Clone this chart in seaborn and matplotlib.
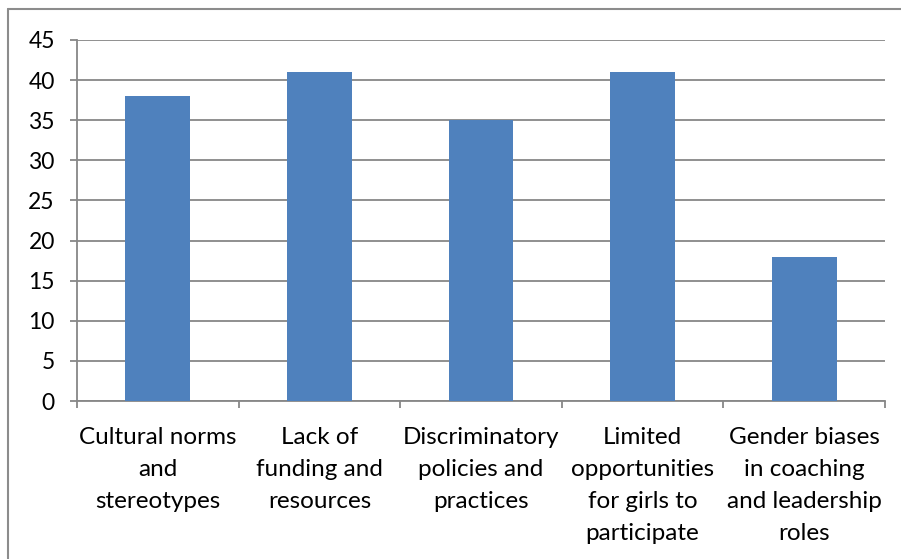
import matplotlib
matplotlib.use("Agg")
import matplotlib.pyplot as plt
from matplotlib.lines import Line2D
import seaborn as sns
import pandas as pd

categories = [
    "Cultural norms\nand\nstereotypes",
    "Lack of\nfunding and\nresources",
    "Discriminatory\npolicies and\npractices",
    "Limited\nopportunities\nfor girls to\nparticipate",
    "Gender biases\nin coaching\nand leadership\nroles",
]
values = [38, 41, 35, 41, 18]
y_ticks = [0, 5, 10, 15, 20, 25, 30, 35, 40, 45]

sns.set_theme(style="white")
plt.rcParams["font.family"] = ["Lato", "DejaVu Sans"]

W, H = 901, 559
fig = plt.figure(figsize=(W / 100, H / 100), dpi=100)
ax = fig.add_axes([77 / W, (H - 401) / H, (885 - 77) / W, (401 - 40) / H])

df = pd.DataFrame({"category": categories, "value": values})
sns.barplot(data=df, x="category", y="value", color="#4F81BD", saturation=1,
            width=0.4, linewidth=0, ax=ax, zorder=3)

grey = "#878787"
ax.set_ylim(0, 45)
ax.set_xlim(-0.5, len(categories) - 0.5)
ax.set_yticks(y_ticks)
ax.set_yticklabels([str(v) for v in y_ticks])
ax.yaxis.grid(True, color=grey, linewidth=1.3, zorder=0)
ax.set_axisbelow(True)
ax.set_xlabel("")
ax.set_ylabel("")

for side in ("top", "right"):
    ax.spines[side].set_visible(False)
for side in ("left", "bottom"):
    ax.spines[side].set_color(grey)
    ax.spines[side].set_linewidth(1.3)

ax.tick_params(axis="y", which="major", length=5, width=1.3, color=grey,
               labelsize=16.5, labelcolor="black", pad=11, left=True)
ax.tick_params(axis="x", which="major", length=0, labelsize=17.5,
               labelcolor="black", pad=19)
ax.set_xticks([i - 0.5 for i in range(len(categories) + 1)], minor=True)
ax.tick_params(axis="x", which="minor", length=5, width=1.3, color=grey,
               bottom=True)
for lbl in ax.get_xticklabels():
    lbl.set_linespacing(1.63)
    lbl.set_ha("center")

# chart frame
fig.add_artist(Line2D([8 / W, 8 / W], [0, 1 - 9 / H], transform=fig.transFigure,
                      color="#8c8c8c", linewidth=1.5))
fig.add_artist(Line2D([8 / W, 1], [1 - 9 / H, 1 - 9 / H], transform=fig.transFigure,
                      color="#8c8c8c", linewidth=1.5))

fig.savefig("out.png", dpi=100)
